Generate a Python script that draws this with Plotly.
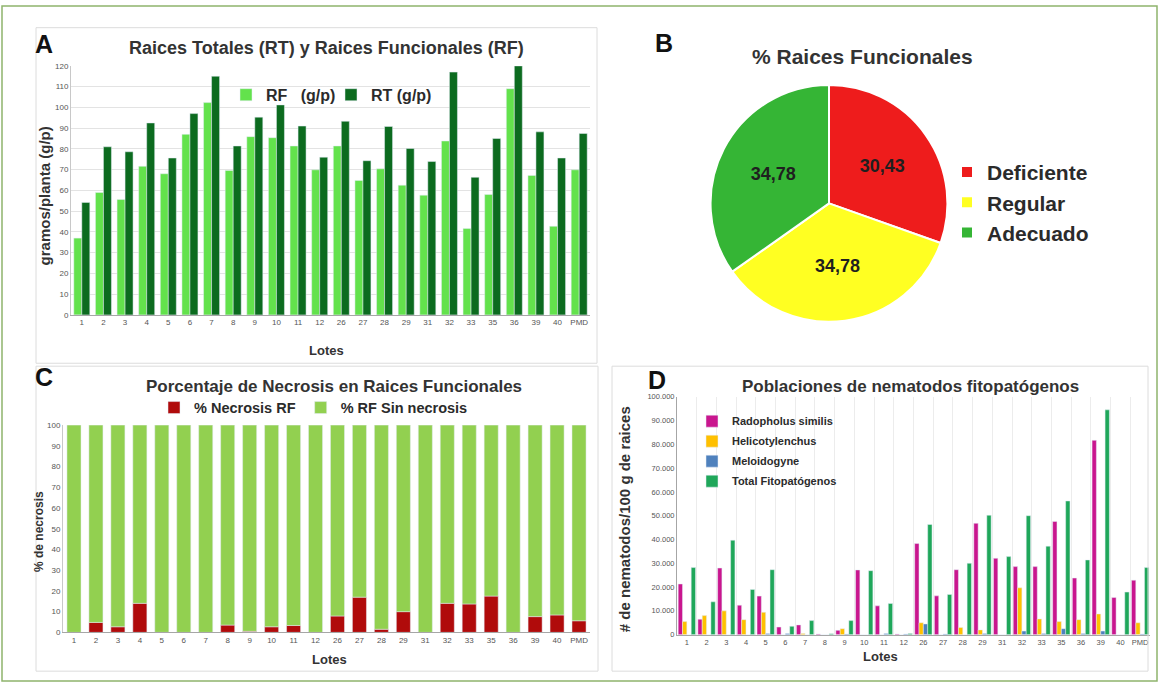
import plotly.graph_objects as go

W, H = 1160, 688


def px(x):
    return x / W


def py(y):
    return 1 - y / H


# ---------------- data ----------------
lotes = ["1", "2", "3", "4", "5", "6", "7", "8", "9", "10", "11", "12",
         "26", "27", "28", "29", "31", "32", "33", "35", "36", "39", "40", "PMD"]

# Panel A: gramos/planta
rf_gp = [37, 59, 55.6, 71.6, 68, 87, 102.3, 69.6, 85.9, 85.4, 81.4, 69.9,
         81.4, 64.8, 70.4, 62.5, 57.7, 83.8, 41.6, 58, 109, 67.2, 42.7, 69.9]
rt_gp = [54.2, 81, 78.6, 92.5, 75.6, 97, 115, 81.4, 95.3, 101.2, 91, 76,
         93.3, 74.3, 90.8, 80.2, 73.9, 117, 66.3, 85, 120, 88.2, 75.6, 87.4]

# Panel B: % raices funcionales
pie_labels = ["Deficiente", "Regular", "Adecuado"]
pie_values = [30.43, 34.78, 34.78]

# Panel C: % necrosis
necrosis_rf = [0, 4.8, 2.7, 14, 0, 0, 0, 3.5, 0.5, 2.7, 3.3, 0,
               7.9, 17, 1.5, 10, 0, 14, 13.7, 17.5, 0, 7.6, 8.4, 5.6]
rf_sin_necrosis = [100, 95.2, 97.3, 86, 100, 100, 100, 96.5, 99.5, 97.3, 96.7, 100,
                   92.1, 83, 98.5, 90, 100, 86, 86.3, 82.5, 100, 92.4, 91.6, 94.4]

# Panel D: nematodos / 100 g raices
radopholus = [21300, 6500, 28000, 12400, 16200, 3200, 4100, 300, 1800, 27200, 12100, 300,
              38300, 16300, 27300, 46800, 32100, 28600, 28600, 47600, 23800, 81700, 15600, 22900]
helicotylenchus = [5500, 8000, 10000, 6300, 9400, 0, 500, 0, 2500, 0, 0, 0,
                   5000, 0, 3000, 2000, 0, 19700, 6600, 5500, 6300, 8700, 0, 5000]
meloidogyne = [0, 0, 0, 0, 500, 500, 0, 0, 300, 0, 500, 300,
               4500, 300, 0, 500, 0, 1500, 500, 2500, 500, 1500, 0, 300]
total_fito = [28200, 13800, 39700, 19000, 27300, 3500, 5900, 400, 5900, 26900, 13100, 500,
              46300, 16900, 30000, 50200, 32800, 50000, 37200, 56200, 31400, 94500, 17900, 28200]

FONT = "Arial, Liberation Sans, sans-serif"
DARK = "#2b2b2b"
TITLE = "#333333"

fig = go.Figure()

# ---------- Panel A ----------
fig.add_trace(go.Bar(x=lotes, y=rf_gp, name="RF\u00a0\u00a0\u00a0(g/p)", marker_color="#63e24c",
                     width=0.37, offset=-0.37, xaxis="x", yaxis="y", legend="legend"))
fig.add_trace(go.Bar(x=lotes, y=rt_gp, name="RT (g/p)", marker_color="#0c6b1f",
                     width=0.37, offset=0.0, xaxis="x", yaxis="y", legend="legend"))

# ---------- Panel B ----------
fig.add_trace(go.Pie(labels=pie_labels, values=pie_values, sort=False, direction="clockwise",
                     rotation=0, marker=dict(colors=["#ee1c1c", "#ffff22", "#35b535"],
                                             line=dict(color="white", width=2)),
                     texttemplate="%{value:.2f}", textposition="inside",
                     insidetextfont=dict(family=FONT, size=18, color="#1f1f1f", weight="bold"),
                     domain=dict(x=[px(709), px(949)], y=[py(322), py(82)]),
                     legend="legend3", showlegend=True, hoverinfo="label+value"))

# ---------- Panel C ----------
fig.add_trace(go.Bar(x=lotes, y=necrosis_rf, name="% Necrosis RF", marker_color="#b00b0b",
                     width=0.64, offset=-0.32, xaxis="x2", yaxis="y2", legend="legend2"))
fig.add_trace(go.Bar(x=lotes, y=rf_sin_necrosis, base=necrosis_rf, name="% RF Sin necrosis",
                     marker_color="#92d050", width=0.64, offset=-0.32,
                     xaxis="x2", yaxis="y2", legend="legend2"))

# ---------- Panel D ----------
d_series = [("Radopholus similis", radopholus, "#c9168e"),
            ("Helicotylenchus", helicotylenchus, "#ffc000"),
            ("Meloidogyne", meloidogyne, "#4f81bd"),
            ("Total Fitopatógenos", total_fito, "#1fa75a")]
bw = 0.22
for i, (nm, vals, col) in enumerate(d_series):
    fig.add_trace(go.Bar(x=lotes, y=vals, name=nm, marker_color=col, width=bw,
                         offset=-0.44 + i * bw, xaxis="x3", yaxis="y3",
                         legend="legend4", legendgroup=nm))

tickfont = dict(family=FONT, size=8, color="#555555")
axis_common = dict(type="category", showline=True, linecolor="#a6a6a6", linewidth=1,
                   ticks="", tickangle=0, fixedrange=True)

fig.update_layout(
    width=W, height=H, margin=dict(l=0, r=0, t=0, b=0),
    paper_bgcolor="white", plot_bgcolor="rgba(0,0,0,0)",
    barmode="overlay", separators=",.",
    font=dict(family=FONT, color=DARK),
    xaxis=dict(domain=[px(71), px(590)], anchor="y", tickfont=tickfont, **axis_common),
    yaxis=dict(domain=[py(315), py(62.7)], anchor="x", range=[0, 120], dtick=10,
               showgrid=True, gridcolor="#e3e3e3", showline=True, linecolor="#c8c8c8",
               tickfont=tickfont, zeroline=False, fixedrange=True),
    xaxis2=dict(domain=[px(63), px(590)], anchor="y2", tickfont=tickfont, **axis_common),
    yaxis2=dict(domain=[py(636.7), py(426.7)], anchor="x2", range=[0, 100], dtick=10,
                showgrid=False, showline=True, linecolor="#c8c8c8",
                tickfont=tickfont, zeroline=False, fixedrange=True),
    xaxis3=dict(domain=[px(677), px(1150)], anchor="y3", showgrid=True, gridcolor="#ececec",
                tickson="boundaries", tickfont=dict(family=FONT, size=7.5, color="#555555"),
                **axis_common),
    yaxis3=dict(domain=[py(639), py(398)], anchor="x3", range=[0, 100000], dtick=10000,
                tickformat=",d", showgrid=False, showline=True, linecolor="#a6a6a6",
                tickfont=dict(family=FONT, size=7.5, color="#555555"), zeroline=False,
                fixedrange=True),
    legend=dict(orientation="h", x=px(226), y=py(92), xanchor="left", yanchor="middle",
                font=dict(family=FONT, size=16, color=DARK, weight="bold"),
                bgcolor="rgba(0,0,0,0)", itemwidth=30, entrywidth=60, traceorder="normal"),
    legend2=dict(orientation="h", x=px(154), y=py(409), xanchor="left", yanchor="middle",
                 font=dict(family=FONT, size=14.5, color=DARK, weight="bold"),
                 bgcolor="rgba(0,0,0,0)", itemwidth=30, traceorder="normal"),
    legend3=dict(orientation="v", x=px(947), y=py(201), xanchor="left", yanchor="middle",
                 font=dict(family=FONT, size=21, color=DARK, weight="bold"),
                 bgcolor="rgba(0,0,0,0)", itemwidth=30, traceorder="normal"),
    legend4=dict(orientation="v", x=px(692), y=py(408), xanchor="left", yanchor="top",
                 font=dict(family=FONT, size=11, color=DARK, weight="bold"),
                 bgcolor="rgba(0,0,0,0)", itemwidth=30, tracegroupgap=1,
                 traceorder="grouped"),
)

ann = []


def add_text(x, y, text, size, angle=0, color=DARK, bold=True):
    ann.append(dict(x=px(x), y=py(y), xref="paper", yref="paper", text=text,
                    showarrow=False, textangle=angle,
                    font=dict(family=FONT, size=size, color=color,
                              weight="bold" if bold else "normal"),
                    xanchor="center", yanchor="middle"))


# panel letters
add_text(44, 41, "A", 25, color="#111111")
add_text(664, 40, "B", 25, color="#111111")
add_text(44, 378, "C", 25, color="#111111")
add_text(657, 381, "D", 25, color="#111111")

# titles
add_text(326, 45, "Raices Totales (RT) y Raices Funcionales (RF)", 18, color=TITLE)
add_text(862, 53, "% Raices Funcionales", 21, color=TITLE)
add_text(334, 388, "Porcentaje de Necrosis en Raices Funcionales", 17, color=TITLE)
add_text(910, 388, "Poblaciones de nematodos fitopatógenos", 17, color=TITLE)

# axis titles
add_text(44, 195, "gramos/planta (g/p)", 15, angle=-90, color=TITLE)
add_text(326, 351, "Lotes", 13, color=TITLE)
add_text(39, 535, "% de necrosis", 12, angle=-90, color=TITLE)
add_text(329, 664, "Lotes", 13, color=TITLE)
add_text(624, 522, "# de nematodos/100 g de raices", 15, angle=-90, color=TITLE)
add_text(880, 661, "Lotes", 13, color=TITLE)

fig.update_layout(annotations=ann)

shapes = [
    dict(type="rect", xref="paper", yref="paper", x0=px(2), x1=px(1157), y0=py(686), y1=py(2),
         line=dict(color="#8fb46c", width=1.5)),
    dict(type="rect", xref="paper", yref="paper", x0=px(36), x1=px(597), y0=py(364), y1=py(24),
         line=dict(color="#dcdcdc", width=1)),
    dict(type="rect", xref="paper", yref="paper", x0=px(36), x1=px(598), y0=py(676), y1=py(367),
         line=dict(color="#dcdcdc", width=1)),
    dict(type="rect", xref="paper", yref="paper", x0=px(612), x1=px(1148), y0=py(676), y1=py(367),
         line=dict(color="#dcdcdc", width=1)),
]
fig.update_layout(shapes=shapes)

fig.write_html("out.html", config={"displayModeBar": False},
               post_script="document.body.style.margin='0';document.body.style.padding='0';"
                           "document.documentElement.style.margin='0';")
